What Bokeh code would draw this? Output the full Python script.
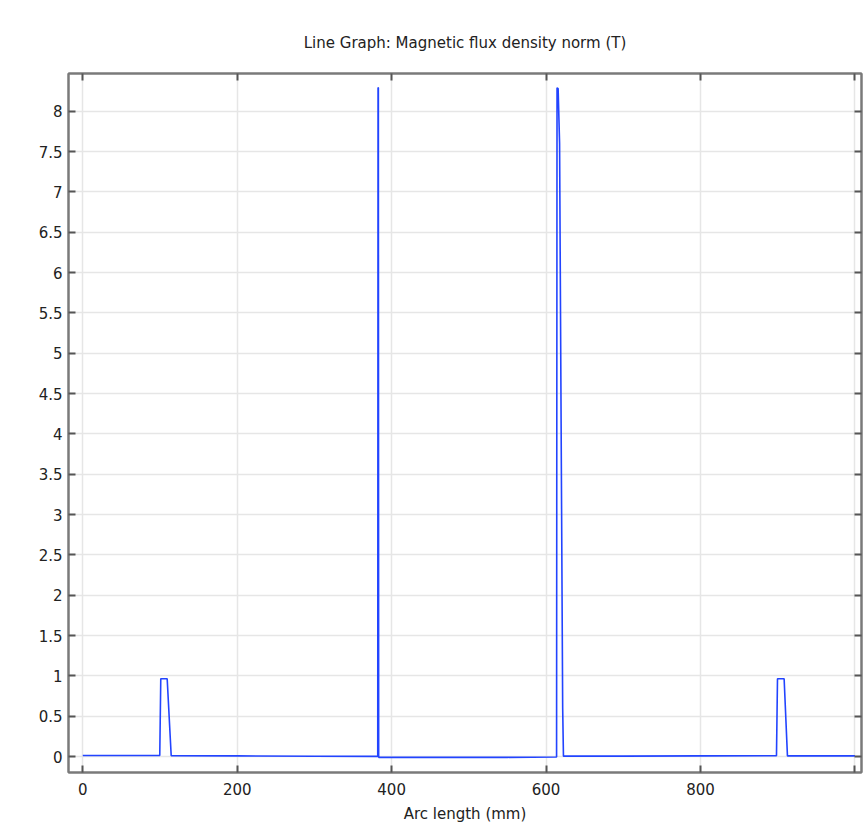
from bokeh.plotting import figure
from bokeh.models import Range1d, LinearAxis, FixedTicker, CustomLabelingPolicy
from bokeh.embed import file_html
from bokeh.resources import INLINE

# ---- data ----
arc_length = [0, 50, 99.7, 101.0, 109.3, 114.5, 200, 300, 382.0, 382.4, 382.8, 383.2,
              450, 550, 613.6, 614.2, 615.6, 617.5, 621.5, 622.5, 700, 800,
              898.4, 899.7, 908.3, 912.6, 950, 1000]
b_norm = [0.012, 0.012, 0.012, 0.965, 0.965, 0.010, 0.008, 0.004, 0.002, 8.29, 8.29, -0.01,
          -0.01, -0.01, -0.005, 8.29, 8.28, 7.6, 0.6, 0.005, 0.005, 0.008,
          0.010, 0.965, 0.965, 0.008, 0.008, 0.008]

x_ticks = [0, 200, 400, 600, 800, 1000]
x_tick_labels = ["0", "200", "400", "600", "800", ""]
y_ticks = [0, 0.5, 1, 1.5, 2, 2.5, 3, 3.5, 4, 4.5, 5, 5.5, 6, 6.5, 7, 7.5, 8]
y_tick_labels = ["0", "0.5", "1", "1.5", "2", "2.5", "3", "3.5", "4", "4.5", "5",
                 "5.5", "6", "6.5", "7", "7.5", "8"]

title_text = "Line Graph: Magnetic flux density norm (T)"
x_label = "Arc length (mm)"

FONT = "DejaVu Sans"
TXT = "#222222"
FRAME = "#7a7a7a"

p = figure(width=866, height=826, output_backend="svg", toolbar_location=None,
           title=title_text,
           x_range=Range1d(-18.5, 1008.5), y_range=Range1d(-0.198, 8.467),
           min_border_left=68, min_border_top=73, min_border_bottom=54, min_border_right=0,
           x_axis_location=None, y_axis_location=None)

p.title.align = "center"
p.title.text_font = FONT
p.title.text_font_size = "15px"
p.title.text_font_style = "normal"
p.title.text_color = TXT
p.title.standoff = 35

p.outline_line_color = FRAME
p.outline_line_width = 2
p.background_fill_color = "white"
p.border_fill_color = "white"

no_labels = CustomLabelingPolicy(code="""
try { indices.clear(); return indices } catch (e) {}
try { for (const i of [...indices]) { indices.unset(i) } return indices } catch (e) {}
return new Set()
""")

def style_axis(ax, ticks, labels, show_labels):
    ax.ticker = FixedTicker(ticks=ticks)
    ax.axis_line_color = FRAME
    ax.axis_line_width = 2
    ax.major_tick_line_color = "#555555"
    ax.major_tick_line_width = 2
    ax.major_tick_in = 7
    ax.major_tick_out = 0
    ax.minor_tick_line_color = None
    ax.major_label_text_font = FONT
    ax.major_label_text_color = TXT
    if show_labels:
        ax.major_label_overrides = {t: l for t, l in zip(ticks, labels)}
        ax.major_label_text_font_size = "15px"
    else:
        ax.major_label_policy = no_labels
        ax.major_label_text_font_size = "1px"
        ax.major_label_standoff = 0

xb = LinearAxis()
style_axis(xb, x_ticks, x_tick_labels, True)
xb.major_label_standoff = 10
xb.axis_label = x_label
xb.axis_label_text_font = FONT
xb.axis_label_text_font_size = "15px"
xb.axis_label_text_font_style = "normal"
xb.axis_label_text_color = TXT
xb.axis_label_standoff = 7
p.add_layout(xb, "below")

xt = LinearAxis()
style_axis(xt, x_ticks, x_tick_labels, False)
p.add_layout(xt, "above")

yl = LinearAxis()
style_axis(yl, y_ticks, y_tick_labels, True)
yl.major_label_standoff = 6
p.add_layout(yl, "left")

yr = LinearAxis()
style_axis(yr, y_ticks, y_tick_labels, False)
p.add_layout(yr, "right")

p.xgrid.ticker = FixedTicker(ticks=x_ticks)
p.ygrid.ticker = FixedTicker(ticks=y_ticks)
for g in (p.xgrid, p.ygrid):
    g.grid_line_color = "#e6e6e6"
    g.grid_line_width = 1.5

p.line(arc_length, b_norm, line_color="#2244ff", line_width=1.6)

open("out.html", "w").write(file_html(p, INLINE))
